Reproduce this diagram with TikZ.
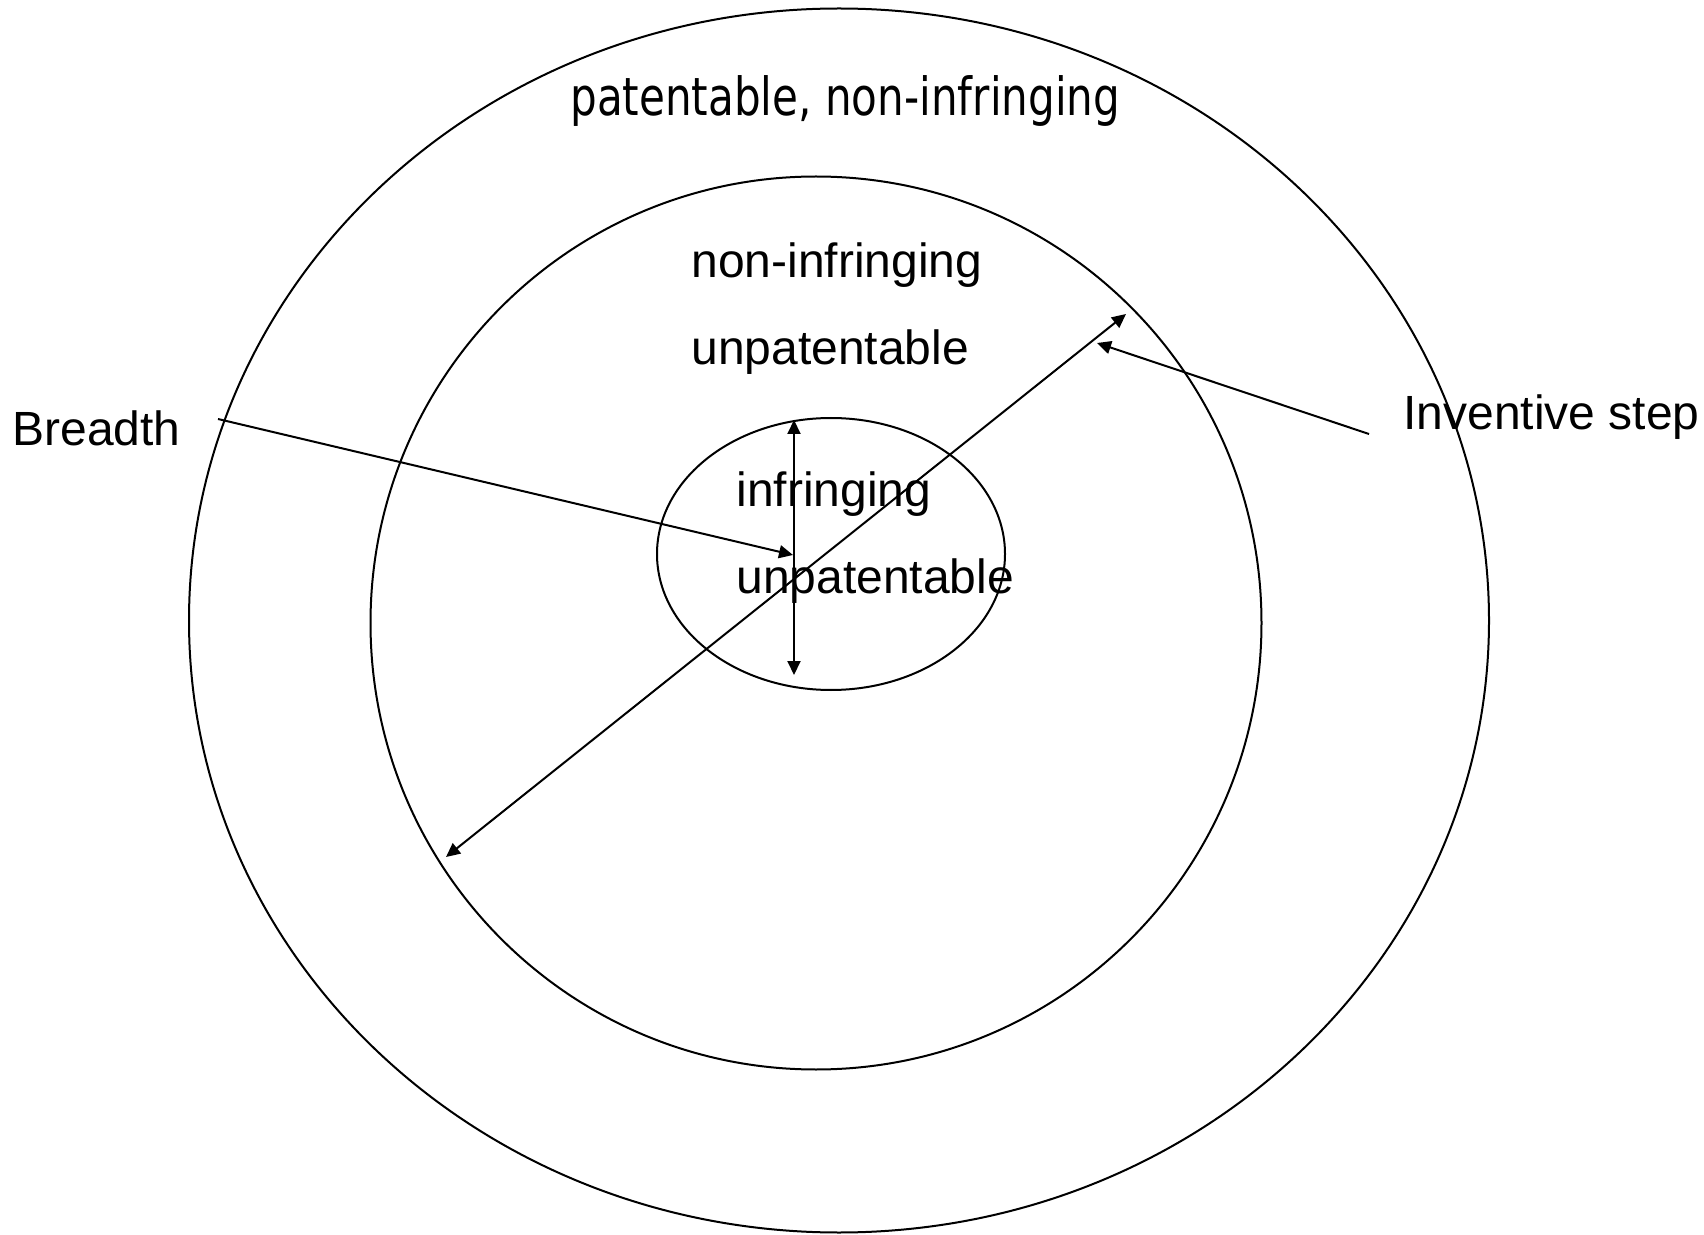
\documentclass[tikz,border=0pt]{standalone}
\usepackage{fontspec}
\setmainfont{Liberation Sans}
\newfontfamily\headfont[FakeStretch=0.8]{DejaVu Sans}
\usetikzlibrary{arrows.meta}

\tikzset{
  ring/.style={line width=1pt},
  onearrow/.style={line width=1pt,-{Triangle[length=7pt,width=6.5pt]}},
  twoarrow/.style={line width=1pt,{Triangle[length=7pt,width=6.5pt]}-{Triangle[length=7pt,width=6.5pt]}},
  label/.style={inner sep=0pt,anchor=base west,font=\fontsize{24}{29}\selectfont}
}

\begin{document}
\begin{tikzpicture}[x=0.5pt,y=-0.5pt]
    \useasboundingbox (0,0) rectangle (1704,1235);

    % Centres of the three regions
    \coordinate (outer) at (839,620.5);
    \coordinate (middle) at (816,623);
    \coordinate (inner) at (831,554);

    % The nested regions
    \draw[ring] (outer) ellipse [x radius=650, y radius=612];
    \draw[ring] (middle) ellipse [x radius=445.5, y radius=446.5];
    \draw[ring] (inner) ellipse [x radius=174, y radius=136];

    % Labels inside the regions
    \node[label,font=\headfont\fontsize{26.3}{30}\selectfont] (patnon) at (570,116) {patentable, non-infringing};
    \node[label] (noninf) at (691,278) {non-infringing};
    \node[label] (unpatmid) at (691,365) {unpatentable};
    \node[label] (infr) at (736,507) {infringing};
    \node[label] (unpatin) at (736,594) {unpatentable};

    % Side labels
    \node[label] (breadth) at (12,446) {Breadth};
    \node[label] (invstep) at (1403,430) {Inventive step};

    % End points of the arrows
    \coordinate (vtop) at (794,420);
    \coordinate (vbot) at (794,675);
    \coordinate (dlow) at (446,857);
    \coordinate (dhigh) at (1126,314);
    \coordinate (bfrom) at (218,419);
    \coordinate (bto) at (793,555);
    \coordinate (ifrom) at (1369,434);
    \coordinate (ito) at (1097,343);

    % Arrows
    \draw[twoarrow] (vtop) -- (vbot);
    \draw[twoarrow] (dlow) -- (dhigh);
    \draw[onearrow] (bfrom) -- (bto);
    \draw[onearrow] (ifrom) -- (ito);

\end{tikzpicture}
\end{document}
